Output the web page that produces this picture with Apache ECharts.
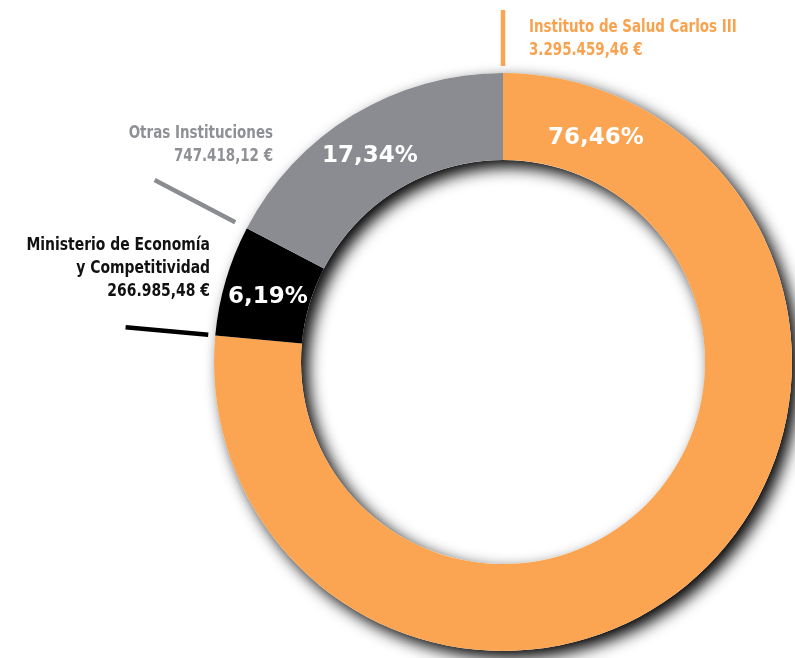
<!DOCTYPE html>
<html lang="es">
<head>
    <meta charset="UTF-8">
    <title>Financiación</title>
    <style>html,body{margin:0;padding:0;background:#fff;}</style>
</head>
<body>
    <div id="main" style="width:795px;height:658px;"></div>
<script src="https://cdn.jsdelivr.net/npm/echarts@6/dist/echarts.min.js"></script>
<script>
    // datos
    var names = ['Instituto de Salud Carlos III', 'Ministerio de Economía\ny Competitividad', 'Otras Instituciones'];
    var values = [3295459.46, 266985.48, 747418.12];
    var colors = ['#fba552', '#000000', '#8a8c91'];
    var textColors = ['#f9a24e', '#111111', '#8e9096'];

    // posiciones (layout)
    var center = [503, 362];
    var radius = [202, 289];
    var pctPos = [[596, 138], [268, 297], [370, 156]];
    var namePos = [[529, 15.5, 'left'], [210, 233.5, 'right'], [273, 121.5, 'right']];
    var leaderR = [[296, 352], [296, 379], [302, 393]];

    var total = values.reduce(function (a, b) { return a + b; }, 0);

    function euro(v) {
        var p = v.toFixed(2).split('.');
        return p[0].replace(/\B(?=(\d{3})+(?!\d))/g, '.') + ',' + p[1] + ' €';
    }

    var graphics = [];
    var cum = 0;
    for (var i = 0; i < values.length; i++) {
        // linea en el inicio de cada sector
        var ang = (90 - 360 * cum / total) * Math.PI / 180;
        cum += values[i];
        graphics.push({
            type: 'line',
            shape: {
                x1: center[0] + leaderR[i][0] * Math.cos(ang),
                y1: center[1] - leaderR[i][0] * Math.sin(ang),
                x2: center[0] + leaderR[i][1] * Math.cos(ang),
                y2: center[1] - leaderR[i][1] * Math.sin(ang)
            },
            style: { stroke: colors[i], lineWidth: 4.5 }
        });
        graphics.push({
            type: 'text',
            x: namePos[i][0],
            y: namePos[i][1],
            scaleX: i === 1 ? 0.86 : 0.83,
            style: {
                text: names[i] + '\n' + euro(values[i]),
                fill: textColors[i],
                font: 'bold 18px "DejaVu Sans Condensed", sans-serif',
                lineHeight: 23,
                align: namePos[i][2],
                verticalAlign: 'top'
            }
        });
    }

    var pieData = values.map(function (v, i) {
        return { name: names[i], value: v, itemStyle: { color: colors[i] } };
    });

    var myChart = echarts.init(document.getElementById('main'));
    myChart.setOption({
        animation: false,
        series: [{
            // anillo de sombra
            type: 'pie',
            silent: true,
            center: center,
            radius: radius,
            startAngle: 90,
            label: { show: false },
            labelLine: { show: false },
            itemStyle: {
                color: '#ffffff',
                shadowColor: 'rgba(0,0,0,1)',
                shadowBlur: 16,
                shadowOffsetX: 7,
                shadowOffsetY: 7
            },
            data: [{ value: total }]
        }, {
            type: 'pie',
            silent: true,
            center: center,
            radius: radius,
            startAngle: 90,
            clockwise: true,
            itemStyle: { borderWidth: 0 },
            label: {
                show: true,
                position: 'inside',
                color: '#ffffff',
                fontFamily: 'DejaVu Sans',
                fontWeight: 'bold',
                fontSize: 23,
                formatter: function (p) {
                    return (p.value / total * 100).toFixed(2).replace('.', ',') + '%';
                }
            },
            labelLayout: function (p) {
                return {
                    x: pctPos[p.dataIndex][0],
                    y: pctPos[p.dataIndex][1],
                    align: 'center',
                    verticalAlign: 'middle'
                };
            },
            labelLine: { show: false },
            data: pieData
        }],
        graphic: graphics
    });
</script>
</body>
</html>
